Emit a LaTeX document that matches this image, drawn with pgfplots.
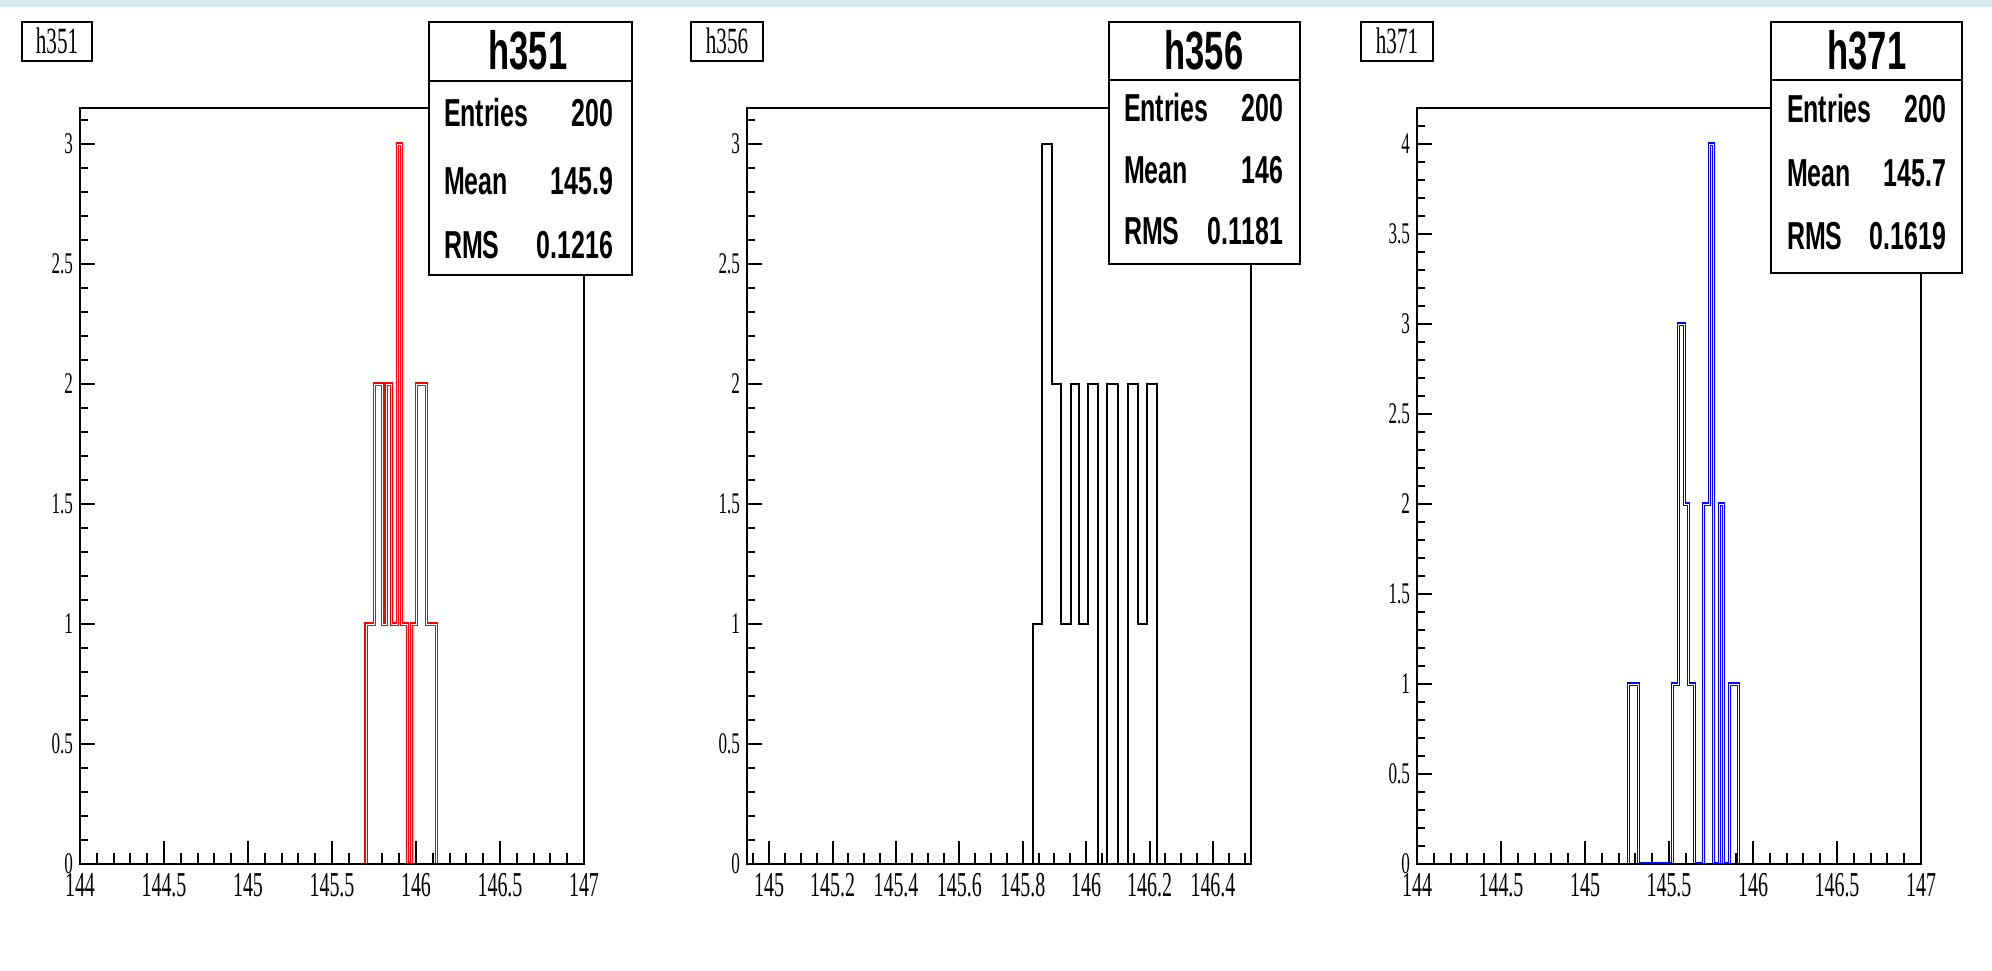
\documentclass[border=0pt]{standalone}
\usepackage{pgfplots}
\pgfplotsset{compat=1.18}
\usepackage{fontspec}
\newfontfamily\rootserif[FakeStretch=0.57]{Liberation Serif}
\newfontfamily\rootsans[FakeStretch=0.64]{Liberation Sans}
\definecolor{band}{RGB}{214,234,237}
\newcommand{\xtf}{\rootserif\fontsize{17.5}{18}\selectfont}
\newcommand{\ytf}{\rootserif\fontsize{15}{16}\selectfont}
\newcommand{\ttf}{\rootserif\fontsize{18.5}{20}\selectfont}
\newcommand{\stf}{\rootsans\bfseries\fontsize{27}{28}\selectfont}
\newcommand{\srf}{\rootsans\bfseries\fontsize{19.5}{20}\selectfont}

\pgfplotsset{
  rootbase/.style={
    scale only axis, width=252pt, height=378pt,
    anchor=south west, ymin=0,
    axis line style={line width=1.3pt, black},
    tick align=inside,
    xtick pos=left, ytick pos=left,
    tick style={line width=1pt, black},
    /pgf/number format/assume math mode=true,
    xticklabel style={font=\xtf, anchor=center, yshift=-10.5pt},
    yticklabel style={font=\ytf},
  },
  xpart/.style={rootbase, ytick=\empty, major tick length=11.5pt, minor tick length=5.5pt},
  ypart/.style={rootbase, xtick=\empty, major tick length=7.5pt, minor tick length=4pt},
}

\begin{document}
\begin{tikzpicture}
\useasboundingbox (0pt,0pt) rectangle (996pt,485pt);
\fill[band] (0pt,481.5pt) rectangle (996pt,485pt);

% ---------------- Panel 1: h351 ----------------
\begin{axis}[xpart, at={(40pt,53pt)}, xmin=144, xmax=147, ymax=3.15,
  xtick={144,144.5,145,145.5,146,146.5,147},
  minor xtick={144,144.1,...,147}]
\addplot[red, line width=0.6pt, double=white, double distance=0.4pt, const plot]
 coordinates {(145.702,0) (145.702,1) (145.755,2) (145.801,1) (145.821,2) (145.855,1)
 (145.889,3) (145.915,1) (145.948,0) (145.974,1) (146.004,2) (146.064,1) (146.123,0)};
\end{axis}
\begin{axis}[ypart, at={(40pt,53pt)}, xmin=144, xmax=147, ymax=3.15,
  ytick={0,0.5,1,1.5,2,2.5,3},
  minor ytick={0,0.1,...,3.1}]
\addplot[draw=none] coordinates {(144,0)};
\end{axis}

% ---------------- Panel 2: h356 ----------------
\begin{axis}[xpart, at={(373.5pt,53pt)}, xmin=144.93, xmax=146.52, ymax=3.15,
  xtick={145,145.2,145.4,145.6,145.8,146,146.2,146.4},
  minor xtick={144.95,145,...,146.5}]
\addplot[black, line width=1pt, const plot]
 coordinates {(145.831,0) (145.831,1) (145.860,3) (145.892,2) (145.921,1) (145.952,2)
 (145.976,1) (146.007,2) (146.037,0) (146.067,2) (146.099,0) (146.131,2) (146.162,1)
 (146.192,2) (146.223,0)};
\end{axis}
\begin{axis}[ypart, at={(373.5pt,53pt)}, xmin=144.93, xmax=146.52, ymax=3.15,
  ytick={0,0.5,1,1.5,2,2.5,3},
  minor ytick={0,0.1,...,3.1}]
\addplot[draw=none] coordinates {(145,0)};
\end{axis}

% ---------------- Panel 3: h371 ----------------
\begin{axis}[xpart, at={(708.5pt,53pt)}, xmin=144, xmax=147, ymax=4.2,
  xtick={144,144.5,145,145.5,146,146.5,147},
  minor xtick={144,144.1,...,147}]
\addplot[blue, line width=0.6pt, double=white, double distance=0.4pt, const plot]
 coordinates {(145.257,0) (145.257,1) (145.317,0) (145.522,1) (145.558,3) (145.592,2)
 (145.616,1) (145.651,0) (145.705,2) (145.741,4) (145.765,0) (145.801,2) (145.825,0)
 (145.859,1) (145.914,0)};
\end{axis}
\begin{axis}[ypart, at={(708.5pt,53pt)}, xmin=144, xmax=147, ymax=4.2,
  ytick={0,0.5,1,1.5,2,2.5,3,3.5,4},
  minor ytick={0,0.1,...,4.2}]
\addplot[draw=none] coordinates {(144,0)};
\end{axis}

\begin{scope}[x=0.5pt,y=0.5pt]
% ---------------- Title boxes ----------------
\draw[line width=0.9pt, fill=white] (22,909) rectangle (92,948);
\node at (57,929) {\ttf h351};
\draw[line width=0.9pt, fill=white] (691,909) rectangle (763,948);
\node at (727,929) {\ttf h356};
\draw[line width=0.9pt, fill=white] (1361,909) rectangle (1433,948);
\node at (1397,929) {\ttf h371};

% ---------------- Stats boxes ----------------
% panel 1
\draw[line width=1.3pt, fill=white] (429,948) rectangle (632,695);
\draw[line width=1.3pt] (429,889) -- (632,889);
\node at (528,920) {\stf h351};
\node[anchor=base west] at (437,843) {\srf Entries};
\node[anchor=base east] at (620,843) {\srf 200};
\node[anchor=base west] at (437,775) {\srf Mean};
\node[anchor=base east] at (620,775) {\srf 145.9};
\node[anchor=base west] at (437,711) {\srf RMS};
\node[anchor=base east] at (620,711) {\srf 0.1216};
% panel 2
\draw[line width=1.3pt, fill=white] (1109,948) rectangle (1300,706);
\draw[line width=1.3pt] (1109,890) -- (1300,890);
\node at (1204,920) {\stf h356};
\node[anchor=base west] at (1117,848) {\srf Entries};
\node[anchor=base east] at (1290,848) {\srf 200};
\node[anchor=base west] at (1117,786) {\srf Mean};
\node[anchor=base east] at (1290,786) {\srf 146};
\node[anchor=base west] at (1117,725) {\srf RMS};
\node[anchor=base east] at (1290,725) {\srf 0.1181};
% panel 3
\draw[line width=1.3pt, fill=white] (1771,948) rectangle (1962,697);
\draw[line width=1.3pt] (1771,890) -- (1962,890);
\node at (1867,920) {\stf h371};
\node[anchor=base west] at (1780,847) {\srf Entries};
\node[anchor=base east] at (1953,847) {\srf 200};
\node[anchor=base west] at (1780,783) {\srf Mean};
\node[anchor=base east] at (1953,783) {\srf 145.7};
\node[anchor=base west] at (1780,720) {\srf RMS};
\node[anchor=base east] at (1953,720) {\srf 0.1619};
\end{scope}
\end{tikzpicture}
\end{document}
